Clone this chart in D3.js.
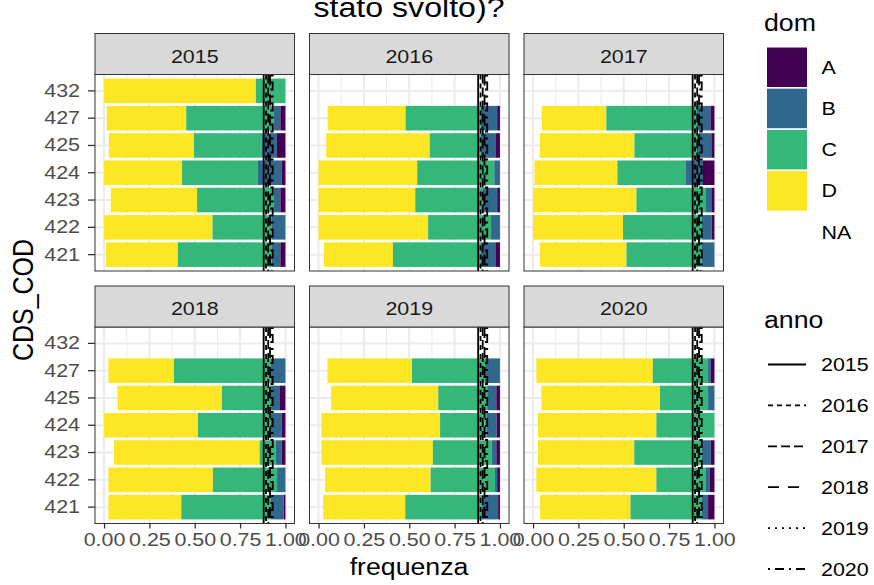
<!DOCTYPE html>
<meta charset="utf-8">
<head>
<style>
  body { margin: 0; background: #fff; }
  svg { font-family: "Liberation Sans", Arial, Helvetica, sans-serif; display: block; }
</style>
</head>
<body>
<script src="https://cdn.jsdelivr.net/npm/d3@7"></script>
<script>

// ---- data ----
var years = ["2015", "2016", "2017", "2018", "2019", "2020"];
var codes = ["432", "427", "425", "424", "423", "422", "421"];
var stackKeys = ["NA", "D", "C", "B", "A"];          // left to right in each bar
var domLevels = ["A", "B", "C", "D", "NA"];
var domColors = ["#440154", "#31688E", "#35B779", "#FDE725", "none"];

// share of each dom per CDS_COD (rows follow codes), columns follow stackKeys
var share2015 = [[0, .837, .163, 0, 0], [.015, .438, .482, .037, .028], [.026, .47, .374, .083, .047],
                 [0, .43, .416, .134, .02], [.037, .476, .422, .037, .028], [0, .598, .328, .074, 0],
                 [.01, .397, .519, .046, .028]];
var share2016 = [[1, 0, 0, 0, 0], [.05, .43, .415, .09, .015], [.042, .571, .282, .08, .025],
                 [0, .544, .425, .031, 0], [0, .533, .372, .08, .015], [0, .604, .347, .049, 0],
                 [.03, .38, .485, .08, .025]];
var share2017 = [[1, 0, 0, 0, 0], [.048, .356, .5, .074, .022], [.037, .522, .345, .079, .017],
                 [.008, .457, .375, .097, .063], [0, .57, .38, .033, .017], [0, .496, .434, .055, .015],
                 [.037, .478, .415, .07, 0]];
var share2018 = [[1, 0, 0, 0, 0], [.024, .361, .535, .08, 0], [.074, .576, .27, .05, .03],
                 [0, .518, .402, .06, .02], [.055, .803, .087, .035, .02], [.024, .576, .354, .046, 0],
                 [.024, .402, .494, .07, .01]];
var share2019 = [[1, 0, 0, 0, 0], [.049, .466, .403, .082, 0], [.069, .591, .27, .05, .02],
                 [.015, .655, .255, .057, .018], [.015, .615, .325, .025, .02], [.036, .582, .355, .012, .015],
                 [.025, .453, .422, .09, .01]];
var share2020 = [[1, 0, 0, 0, 0], [.018, .642, .305, .015, .02], [.046, .654, .265, .035, 0],
                 [.027, .653, .32, 0, 0], [.027, .531, .372, .05, .02], [.018, .662, .27, .025, .025],
                 [.038, .499, .393, .035, .035]];
var shares = [share2015, share2016, share2017, share2018, share2019, share2020];

// reference lines, one per anno
var annoLineX = [0.88, 0.893, 0.905, 0.915, 0.922, 0.93];
var annoDash = [null, "5,4", "9,4", "11,9", "2,5", "2,5,9,5"];

var xTicks = [0, 0.25, 0.5, 0.75, 1];
var xTickLabels = ["0.00", "0.25", "0.50", "0.75", "1.00"];
var xMinor = [0.125, 0.375, 0.625, 0.875];

// ---- layout ----
var SX = 1.16;   // the picture is stretched horizontally
var panelW = 199.5, panelH = 196.5, stripH = 41;
var colX = [95, 309.5, 524];
var rowY = [33.5, 286];

var svg = d3.select("body").append("svg")
    .attr("width", 874)
    .attr("height", 585);

function label(g, x, y, txt, size, anchor, color) {
  return g.append("text")
      .attr("transform", "translate(" + x + "," + y + ") scale(" + SX + ",1)")
      .attr("text-anchor", anchor)
      .style("font-size", size + "px")
      .attr("fill", color)
      .text(txt);
}

var x = d3.scaleLinear().domain([-0.05, 1.05]).range([0, panelW]);
var y = d3.scaleBand().domain(codes).range([0, panelH]).paddingInner(0.1).paddingOuter(0.15);
var color = d3.scaleOrdinal().domain(domLevels).range(domColors);
var stack = d3.stack().keys(stackKeys);

years.forEach(function(yr, p) {
  var col = p % 3, row = Math.floor(p / 3);
  var g = svg.append("g")
      .attr("transform", "translate(" + colX[col] + "," + (rowY[row] + stripH) + ")");

  g.append("rect").attr("width", panelW).attr("height", panelH).attr("fill", "#fff");

  // grid
  g.selectAll(".minor").data(xMinor).enter().append("line")
      .attr("x1", function(d) { return x(d); }).attr("x2", function(d) { return x(d); })
      .attr("y1", 0).attr("y2", panelH)
      .attr("stroke", "#EBEBEB").attr("stroke-width", 1);
  g.selectAll(".majorx").data(xTicks).enter().append("line")
      .attr("x1", function(d) { return x(d); }).attr("x2", function(d) { return x(d); })
      .attr("y1", 0).attr("y2", panelH)
      .attr("stroke", "#EBEBEB").attr("stroke-width", 2);
  g.selectAll(".majory").data(codes).enter().append("line")
      .attr("x1", 0).attr("x2", panelW)
      .attr("y1", function(d) { return y(d) + y.bandwidth() / 2; })
      .attr("y2", function(d) { return y(d) + y.bandwidth() / 2; })
      .attr("stroke", "#EBEBEB").attr("stroke-width", 2);

  // stacked bars
  var rows = codes.map(function(c, i) {
    var o = { code: c };
    stackKeys.forEach(function(k, j) { o[k] = shares[p][i][j]; });
    return o;
  });
  var series = stack(rows);
  g.selectAll(".layer").data(series.filter(function(s) { return s.key != "NA"; }))
    .enter().append("g")
      .attr("fill", function(s) { return color(s.key); })
    .selectAll("rect").data(function(s) { return s; })
    .enter().append("rect")
      .attr("x", function(d) { return x(d[0]); })
      .attr("width", function(d) { return Math.max(0, x(d[1]) - x(d[0])); })
      .attr("y", function(d) { return y(d.data.code); })
      .attr("height", y.bandwidth());

  // anno lines
  g.selectAll(".vline").data(years).enter().append("line")
      .attr("x1", function(d, i) { return x(annoLineX[i]); })
      .attr("x2", function(d, i) { return x(annoLineX[i]); })
      .attr("y1", 0).attr("y2", panelH)
      .attr("stroke", "#000").attr("stroke-width", 1.8)
      .attr("stroke-dasharray", function(d, i) { return annoDash[i]; });

  g.append("rect").attr("width", panelW).attr("height", panelH)
      .attr("fill", "none").attr("stroke", "#333").attr("stroke-width", 1);

  // strip
  svg.append("rect")
      .attr("x", colX[col]).attr("y", rowY[row])
      .attr("width", panelW).attr("height", stripH)
      .attr("fill", "#D9D9D9").attr("stroke", "#333").attr("stroke-width", 1);
  label(svg, colX[col] + panelW / 2, rowY[row] + 29, yr, 18.5, "middle", "#1A1A1A");

  // axes
  if (col == 0) {
    var ay = g.append("g").call(d3.axisLeft(y).tickSize(7).tickPadding(8));
    ay.select(".domain").remove();
    ay.selectAll("line").attr("stroke", "#333").attr("stroke-width", 1.3);
    ay.selectAll("text")
        .style("font-size", "18.5px").attr("fill", "#4D4D4D")
        .attr("x", -15 / SX)
        .attr("transform", "scale(" + SX + ",1)");
  }
  if (row == 1) {
    var ax = g.append("g").attr("transform", "translate(0," + panelH + ")")
        .call(d3.axisBottom(x).tickValues(xTicks)
          .tickFormat(function(d, i) { return xTickLabels[i]; })
          .tickSize(5).tickPadding(4));
    ax.select(".domain").remove();
    ax.selectAll("line").attr("stroke", "#333").attr("stroke-width", 1.3);
    ax.selectAll("text")
        .style("font-size", "18.5px").attr("fill", "#4D4D4D")
        .attr("transform", "scale(" + SX + ",1)");
  }
});

// titles
label(svg, 409, 17, "stato svolto)?", 27.7, "middle", "#000");
label(svg, 409, 575, "frequenza", 23, "middle", "#000");
svg.append("text")
    .attr("transform", "translate(33,300) scale(" + SX + ",1) rotate(-90)")
    .attr("text-anchor", "middle")
    .style("font-size", "25px")
    .text("CDS_COD");

// legend: dom
label(svg, 764, 30.5, "dom", 23, "start", "#000");
var domLeg = svg.append("g").attr("transform", "translate(767,47.5)");
domLevels.forEach(function(d, i) {
  domLeg.append("rect")
      .attr("x", 0).attr("y", i * 41.2)
      .attr("width", 40).attr("height", 39.5)
      .attr("fill", color(d) == "none" ? "#fff" : color(d));
  label(domLeg, 54.5, i * 41.2 + 19.75 + 6.6, d, 18.5, "start", "#000");
});

// legend: anno
label(svg, 764, 328, "anno", 23, "start", "#000");
var annoLeg = svg.append("g").attr("transform", "translate(768,364.5)");
years.forEach(function(d, i) {
  annoLeg.append("line")
      .attr("x1", 0).attr("x2", 38)
      .attr("y1", i * 40.9).attr("y2", i * 40.9)
      .attr("stroke", "#000").attr("stroke-width", 1.8)
      .attr("stroke-dasharray", annoDash[i]);
  label(annoLeg, 53, i * 40.9 + 6.6, d, 18.5, "start", "#000");
});

</script>
</body>
